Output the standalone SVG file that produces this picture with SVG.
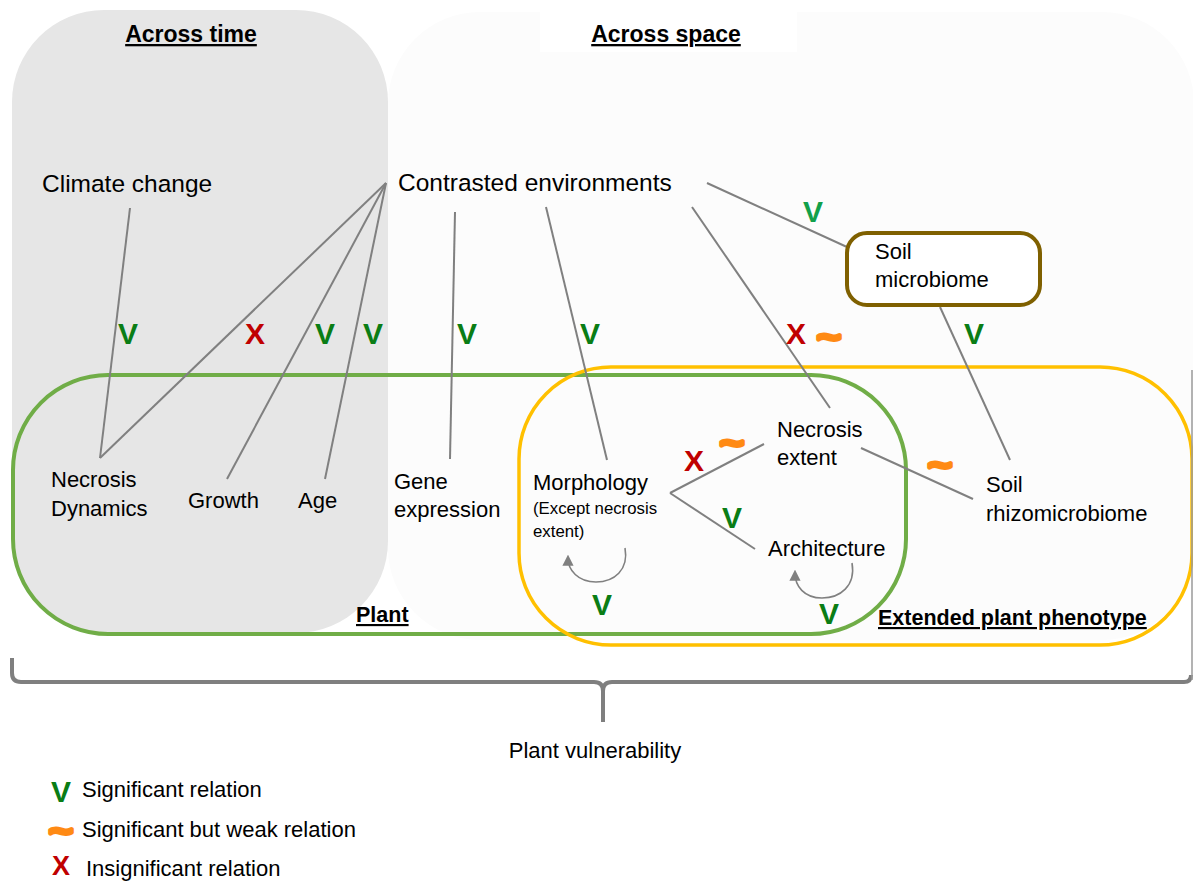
<svg xmlns="http://www.w3.org/2000/svg" width="1193" height="881" viewBox="0 0 1193 881">
<style>
text{font-family:"Liberation Sans",Arial,sans-serif;fill:#000}
.t{font-size:22px}
.big{font-size:24.5px}
.sm{font-size:16.8px}
.h{font-size:23px;font-weight:bold;text-decoration:underline}
.h2{font-size:21.5px;font-weight:bold;text-decoration:underline}
.v{font-size:30px;font-weight:bold;fill:#0a7d15;text-anchor:middle}
.v2{font-size:30px;font-weight:bold;fill:#12a04a;text-anchor:middle}
.x{font-size:30px;font-weight:bold;fill:#c00000;text-anchor:middle}
.w{font-size:34px;font-weight:bold;fill:#ff8a14;stroke:#ff8a14;stroke-width:4;stroke-linejoin:round;text-anchor:middle}
.ln{stroke:#808080;stroke-width:2;fill:none}
.lp{stroke:#808080;stroke-width:1.6;fill:none;marker-end:url(#ah)}
</style>
<defs>
<marker id="ah" viewBox="0 0 10 10" refX="7" refY="5" markerWidth="7" markerHeight="7" orient="auto" markerUnits="strokeWidth">
<path d="M0,0 L10,5 L0,10 z" fill="#808080"/>
</marker>
</defs>
<rect width="1193" height="881" fill="#ffffff"/>
<g id="regions">
<rect id="across-space" x="388" y="12" width="806" height="628" rx="92" fill="#fcfcfc"/>
<rect x="540" y="0" width="257" height="52" fill="#ffffff"/>
<rect id="across-time" x="12" y="10" width="376" height="623" rx="92" fill="#e6e6e6"/>
<text class="h" x="191" y="42" text-anchor="middle">Across time</text>
<text class="h" x="666" y="42" text-anchor="middle">Across space</text>
</g>
<g id="plant">
<rect x="13" y="375" width="893" height="259" rx="95" fill="none" stroke="#70ad47" stroke-width="4"/>
<text class="h2" x="356" y="622">Plant</text>
</g>
<g id="extended-phenotype">
<rect x="519" y="367" width="673" height="278" rx="92" fill="none" stroke="#ffc000" stroke-width="3.5"/>
<text class="h2" x="878" y="625">Extended plant phenotype</text>
</g>
<g id="connectors">
<line class="ln" x1="130" y1="208" x2="100" y2="458"/>
<line class="ln" x1="386" y1="183" x2="100" y2="458"/>
<line class="ln" x1="386" y1="183" x2="227" y2="479"/>
<line class="ln" x1="386" y1="183" x2="325" y2="479"/>
<line class="ln" x1="455" y1="212" x2="450" y2="459"/>
<line class="ln" x1="546" y1="207" x2="607" y2="460"/>
<line class="ln" x1="692" y1="207" x2="830" y2="408"/>
<line class="ln" x1="707" y1="183" x2="847" y2="247"/>
<line class="ln" x1="940" y1="307" x2="1010" y2="460"/>
<line class="ln" x1="670" y1="493" x2="764" y2="444"/>
<line class="ln" x1="670" y1="493" x2="755" y2="549"/>
<line class="ln" x1="861" y1="448" x2="973" y2="499"/>
<path class="lp" d="M625,548 C629,570 614,582 596,582 C578,582 568,570 568,558"/>
<path class="lp" d="M852,563 C856,586 840,598 822,598 C804,598 795,586 795,573"/>
</g>
<g id="node-climate"><text class="big" x="42" y="192">Climate change</text></g>
<g id="node-contrasted"><text class="big" x="398" y="191">Contrasted environments</text></g>
<g id="node-soil-microbiome">
<rect x="847" y="233" width="193" height="72" rx="20" fill="#ffffff" stroke="#7f6000" stroke-width="4"/>
<text class="t" x="875" y="259">Soil</text>
<text class="t" x="875" y="287">microbiome</text>
</g>
<g id="node-necrosis-dynamics"><text class="t" x="51" y="487">Necrosis</text><text class="t" x="51" y="516">Dynamics</text></g>
<g id="node-growth"><text class="t" x="188" y="508">Growth</text></g>
<g id="node-age"><text class="t" x="298" y="508">Age</text></g>
<g id="node-gene"><text class="t" x="394" y="489">Gene</text><text class="t" x="394" y="517">expression</text></g>
<g id="node-morphology"><text class="t" x="533" y="490">Morphology</text><text class="sm" x="533" y="514">(Except necrosis</text><text class="sm" x="533" y="537">extent)</text></g>
<g id="node-necrosis-extent"><text class="t" x="777" y="437">Necrosis</text><text class="t" x="777" y="465">extent</text></g>
<g id="node-architecture"><text class="t" x="768" y="556">Architecture</text></g>
<g id="node-rhizo"><text class="t" x="986" y="492">Soil</text><text class="t" x="986" y="521">rhizomicrobiome</text></g>
<g id="relation-labels">
<text class="v" x="128" y="344">V</text>
<text class="x" x="255" y="344">X</text>
<text class="v" x="325" y="344">V</text>
<text class="v" x="373" y="344">V</text>
<text class="v" x="467" y="344">V</text>
<text class="v" x="590" y="344">V</text>
<text class="v2" x="813" y="222">V</text>
<text class="x" x="796" y="344">X</text>
<text class="w" x="829" y="348" textLength="24" lengthAdjust="spacingAndGlyphs">~</text>
<text class="v" x="974" y="344">V</text>
<text class="x" x="694" y="471">X</text>
<text class="w" x="732" y="454" textLength="24" lengthAdjust="spacingAndGlyphs">~</text>
<text class="v" x="732" y="528">V</text>
<text class="w" x="940" y="476" textLength="24" lengthAdjust="spacingAndGlyphs">~</text>
<text class="v" x="602" y="615">V</text>
<text class="v" x="829" y="624">V</text>
</g>
<g id="bracket">
<path d="M12,658 V673 Q12,682 21,682 H594 Q603,682 603,691 V722 M603,691 Q603,682 612,682 H1184 Q1191,682 1191,675" fill="none" stroke="#7f7f7f" stroke-width="4"/>
<line x1="1192" y1="370" x2="1192" y2="680" stroke="#9a9a9a" stroke-width="1.5"/>
<text class="t" x="595" y="758" text-anchor="middle">Plant vulnerability</text>
</g>
<g id="legend">
<text class="v" x="61" y="802">V</text>
<text class="t" x="82" y="797">Significant relation</text>
<text class="w" x="61" y="842" textLength="24" lengthAdjust="spacingAndGlyphs">~</text>
<text class="t" x="82" y="837">Significant but weak relation</text>
<text class="x" x="61" y="875" style="font-size:27px">X</text>
<text class="t" x="86" y="876">Insignificant relation</text>
</g>
</svg>
